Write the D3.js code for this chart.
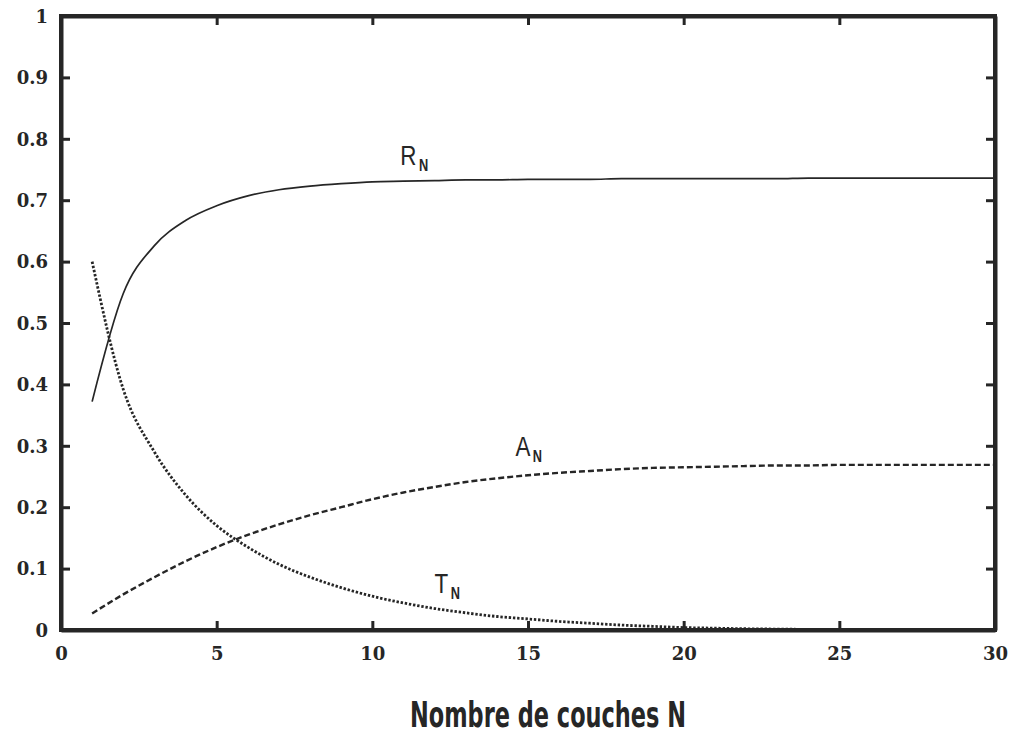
<!DOCTYPE html>
<html>
<head>
<meta charset="utf-8">
<script src="https://cdn.jsdelivr.net/npm/d3@7"></script>
<style>
  html, body { margin: 0; padding: 0; background: #fff; }
  svg { display: block; }
</style>
</head>
<body>
<svg id="chart" width="1020" height="737"></svg>
<script>
// ---- data ----
const layers = [1,2,3,4,5,6,7,8,9,10,11,12,13,14,15,16,17,18,19,20,21,22,23,24,25,26,27,28,29,30];
const reflectance = [0.372,0.548,0.626,0.667,0.691,0.707,0.717,0.723,0.727,0.730,0.731,0.732,0.733,0.733,0.734,0.734,0.734,0.735,0.735,0.735,0.735,0.735,0.735,0.736,0.736,0.736,0.736,0.736,0.736,0.736];
const absorption  = [0.027,0.058,0.086,0.112,0.135,0.155,0.172,0.187,0.200,0.213,0.224,0.233,0.241,0.247,0.252,0.256,0.259,0.262,0.264,0.265,0.266,0.267,0.268,0.268,0.269,0.269,0.269,0.269,0.269,0.269];
const transmission = [0.600,0.392,0.290,0.220,0.170,0.135,0.107,0.086,0.069,0.055,0.044,0.035,0.028,0.022,0.018,0.014,0.011,0.008,0.006,0.004,0.003,0.002,0.0015,0.001,0.0008,0.0006,0.0004,0.0003,0.0002,0.0001];
const xTicks = [0,5,10,15,20,25,30];
const yTicks = [0,0.1,0.2,0.3,0.4,0.5,0.6,0.7,0.8,0.9,1];
const yTickLabels = ["0","0.1","0.2","0.3","0.4","0.5","0.6","0.7","0.8","0.9","1"];
const xTitle = "Nombre de couches N";
const seriesLabels = [
  {main: "R", sub: "N", n: 10.9, v: 0.757},
  {main: "A", sub: "N", n: 14.6, v: 0.284},
  {main: "T", sub: "N", n: 12.0, v: 0.060}
];

// ---- layout ----
const svg = d3.select("#chart");
const padL = 61, padR = 995, padT = 16, padB = 630;
const x = d3.scaleLinear().domain([0, 30]).range([padL, padR]);
const y = d3.scaleLinear().domain([0, 1]).range([padB, padT]);
const ink = "#262626";

// curves
const mk = vals => layers.map((n, i) => [n, vals[i]]);
const line = d3.line().x(d => x(d[0])).y(d => y(d[1])).curve(d3.curveMonotoneX);

svg.append("path").datum(mk(reflectance)).attr("d", line)
  .attr("fill", "none").attr("stroke", ink).attr("stroke-width", 1.7);
svg.append("path").datum(mk(absorption)).attr("d", line)
  .attr("fill", "none").attr("stroke", ink).attr("stroke-width", 2.4)
  .attr("stroke-dasharray", "6,3");
svg.append("path").datum(mk(transmission)).attr("d", line)
  .attr("fill", "none").attr("stroke", ink).attr("stroke-width", 2.8)
  .attr("stroke-dasharray", "2.4,1.8");

// axes (ticks inward on all four sides)
const tickLen = 9;
const labelFont = "'DejaVu Serif', serif";

const gb = svg.append("g").attr("transform", `translate(0,${padB})`)
  .call(d3.axisBottom(x).tickValues(xTicks).tickSizeInner(-tickLen).tickSizeOuter(0).tickPadding(17).tickFormat(d3.format("d")));
const gt = svg.append("g").attr("transform", `translate(0,${padT})`)
  .call(d3.axisTop(x).tickValues(xTicks.slice(1, -1)).tickSizeInner(-tickLen).tickSizeOuter(0).tickFormat(""));
const gl = svg.append("g").attr("transform", `translate(${padL},0)`)
  .call(d3.axisLeft(y).tickValues(yTicks).tickSizeInner(-tickLen).tickSizeOuter(0).tickPadding(13)
    .tickFormat((d, i) => yTickLabels[i]));
const gr = svg.append("g").attr("transform", `translate(${padR},0)`)
  .call(d3.axisRight(y).tickValues(yTicks.slice(1, -1)).tickSizeInner(-tickLen).tickSizeOuter(0).tickFormat(""));

[gb, gt, gl, gr].forEach(g => {
  g.select(".domain").attr("stroke", ink).attr("stroke-width", 4);
  g.selectAll(".tick line").attr("stroke", ink).attr("stroke-width", 3);
  g.selectAll(".tick text").attr("fill", ink)
    .style("font-family", labelFont).style("font-weight", "bold").style("font-size", "18px");
});
gb.selectAll(".tick line").filter(d => d === 0 || d === 30).remove();
gl.selectAll(".tick line").filter(d => d === 0 || d === 1).remove();
gl.selectAll(".tick text").attr("dy", "0.35em");

// frame
svg.append("rect").attr("x", padL).attr("y", padT).attr("width", padR - padL).attr("height", padB - padT)
  .attr("fill", "none").attr("stroke", ink).attr("stroke-width", 4);

// series labels
seriesLabels.forEach(s => {
  const g = svg.append("g").attr("transform", `translate(${x(s.n)},${y(s.v)}) scale(0.8,1)`);
  const t = g.append("text").attr("fill", ink).style("font-family", "'Liberation Sans', Arial, sans-serif");
  t.append("tspan").style("font-size", "28px").text(s.main);
  t.append("tspan").attr("dy", 6).attr("dx", 3).style("font-size", "16px").style("font-weight", "bold").text(s.sub);
});

// x-axis title
svg.append("text").attr("x", 548).attr("y", 727).attr("text-anchor", "middle")
  .attr("textLength", 276).attr("lengthAdjust", "spacingAndGlyphs")
  .attr("fill", ink)
  .style("font-family", "'DejaVu Sans', sans-serif").style("font-weight", "bold").style("font-size", "36px")
  .text(xTitle);
</script>
</body>
</html>
